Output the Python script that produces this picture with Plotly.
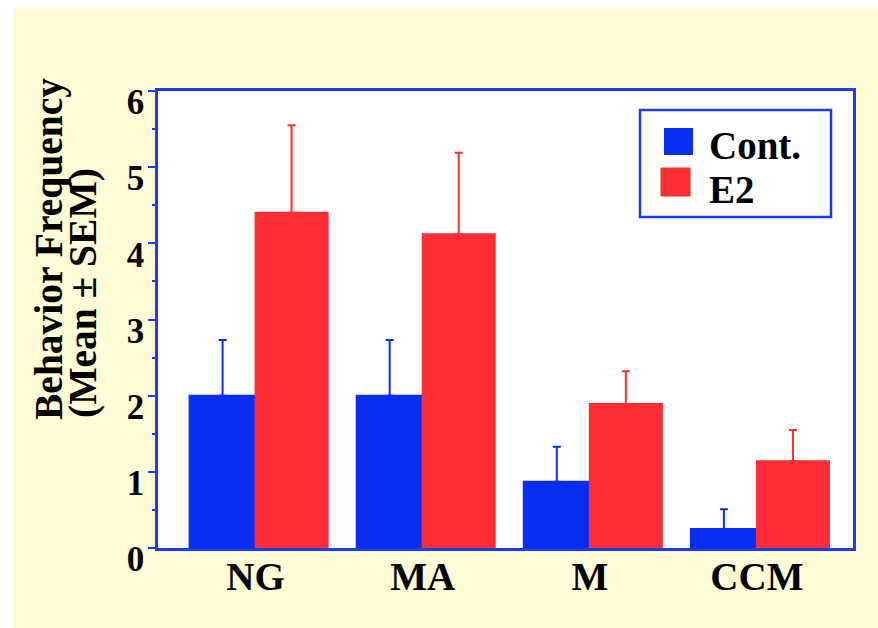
import plotly.graph_objects as go

# Behaviour frequency (mean ± SEM) for control and E2-treated groups
categories = ["NG", "MA", "M", "CCM"]
series_names = ["Cont.", "E2"]
cont_mean = [2.00, 2.00, 0.87, 0.25]
cont_sem = [0.73, 0.73, 0.46, 0.26]
e2_mean = [4.40, 4.12, 1.89, 1.14]
e2_sem = [1.15, 1.07, 0.43, 0.41]
y_ticks = [0, 1, 2, 3, 4, 5, 6]
y_title_lines = ["Behavior Frequency", "(Mean ± SEM)"]

# page geometry (pixels)
W, H = 878, 628
M_L, M_R, M_T, M_B = 158, 25, 91, 80
PW = W - M_L - M_R
PH = H - M_T - M_B


def px_x(x):
    """pixel column -> paper x"""
    return (x - M_L) / PW


def px_y(y):
    """pixel row -> paper y"""
    return (H - M_B - y) / PH


BLUE = "#0a2ef0"
RED = "#ff2d35"
RED_ERR = "#ff3020"
FRAME = "#1a3cf8"
CREAM = "#fffdd6"
SERIF = "Liberation Serif"

# bar geometry in category units: control to the left of centre, E2 to the right
CONT_OFFSET, CONT_WIDTH = -0.395, 0.395
E2_OFFSET, E2_WIDTH = 0.0, 0.431


def sem_bars(sem, color):
    # upper-only error bars (the lower end is hidden under the bar drawn on top)
    return dict(type="data", symmetric=False, array=sem,
                arrayminus=[0 for _ in sem],
                color=color, thickness=2, width=4)


fig = go.Figure()

# SEM whiskers first, on transparent bars, so the visible bars sit on top
fig.add_trace(go.Bar(
    x=categories, y=cont_mean, name=series_names[0] + " SEM",
    marker=dict(color="rgba(0,0,0,0)", line=dict(width=0)),
    offset=CONT_OFFSET, width=CONT_WIDTH,
    error_y=sem_bars(cont_sem, BLUE), showlegend=False, hoverinfo="skip",
))
fig.add_trace(go.Bar(
    x=categories, y=e2_mean, name=series_names[1] + " SEM",
    marker=dict(color="rgba(0,0,0,0)", line=dict(width=0)),
    offset=E2_OFFSET, width=E2_WIDTH,
    error_y=sem_bars(e2_sem, RED_ERR), showlegend=False, hoverinfo="skip",
))
fig.add_trace(go.Bar(
    x=categories, y=cont_mean, name=series_names[0],
    marker=dict(color=BLUE, line=dict(color=BLUE, width=2)),
    offset=CONT_OFFSET, width=CONT_WIDTH, showlegend=False,
))
fig.add_trace(go.Bar(
    x=categories, y=e2_mean, name=series_names[1],
    marker=dict(color=RED, line=dict(color=RED, width=2)),
    offset=E2_OFFSET, width=E2_WIDTH, showlegend=False,
))

# cream page with a thin white strip along the left and top edges
shapes = [
    dict(type="rect", xref="paper", yref="paper",
         x0=px_x(0), x1=px_x(13), y0=px_y(H), y1=px_y(0),
         fillcolor="white", line=dict(width=0), layer="below"),
    dict(type="rect", xref="paper", yref="paper",
         x0=px_x(0), x1=px_x(W), y0=px_y(8), y1=px_y(0),
         fillcolor="white", line=dict(width=0), layer="below"),
]

# boxed legend with large swatches
shapes += [
    dict(type="rect", xref="paper", yref="paper",
         x0=px_x(640), x1=px_x(831), y0=px_y(217), y1=px_y(110),
         fillcolor="white", line=dict(color=FRAME, width=2.5)),
    dict(type="rect", xref="paper", yref="paper",
         x0=px_x(664), x1=px_x(693), y0=px_y(155), y1=px_y(128),
         fillcolor=BLUE, line=dict(width=0)),
    dict(type="rect", xref="paper", yref="paper",
         x0=px_x(661), x1=px_x(690), y0=px_y(196), y1=px_y(168),
         fillcolor=RED, line=dict(color=RED_ERR, width=1)),
]

TEXT_FONT = dict(family=SERIF, size=39, color="black", weight="bold")
TITLE_FONT = dict(family=SERIF, size=39.5, color="black", weight="bold")

annotations = [
    dict(text=series_names[0], xref="paper", yref="paper",
         x=px_x(707), y=px_y(146), xanchor="left", yanchor="middle",
         showarrow=False, font=TEXT_FONT),
    dict(text=series_names[1], xref="paper", yref="paper",
         x=px_x(707), y=px_y(189), xanchor="left", yanchor="middle",
         showarrow=False, font=TEXT_FONT),
    # two-line y-axis title, start-aligned along the axis
    dict(text=y_title_lines[0], xref="paper", yref="paper",
         x=px_x(49), y=px_y(422), xanchor="center", yanchor="bottom",
         textangle=-90, showarrow=False, font=TITLE_FONT),
    dict(text=y_title_lines[1], xref="paper", yref="paper",
         x=px_x(83), y=px_y(420), xanchor="center", yanchor="bottom",
         textangle=-90, showarrow=False, font=TITLE_FONT),
]

fig.update_layout(
    width=W, height=H,
    margin=dict(l=M_L, r=M_R, t=M_T, b=M_B, pad=0),
    paper_bgcolor=CREAM, plot_bgcolor="white",
    barmode="overlay",
    shapes=shapes, annotations=annotations,
    showlegend=False,
    xaxis=dict(
        type="category", range=[-0.584, 3.575],
        showline=True, mirror=True, linecolor=FRAME, linewidth=2.5,
        ticks="", showgrid=False, zeroline=False,
        ticklabelstandoff=-8,
        tickfont=TEXT_FONT,
        layer="below traces",
    ),
    yaxis=dict(
        range=[0, 6], tickvals=y_ticks,
        showline=True, mirror=True, linecolor=FRAME, linewidth=2.5,
        ticks="outside", ticklen=7, tickwidth=2, tickcolor=FRAME,
        minor=dict(dtick=0.5, ticks="outside", ticklen=3, tickwidth=2,
                   tickcolor=FRAME, showgrid=False),
        showgrid=False, zeroline=False,
        ticklabelshift=11,
        ticklabelstandoff=-3,
        tickfont=dict(family=SERIF, size=35, color="black", weight="bold"),
        layer="below traces",
    ),
)

fig.write_html("out.html")
